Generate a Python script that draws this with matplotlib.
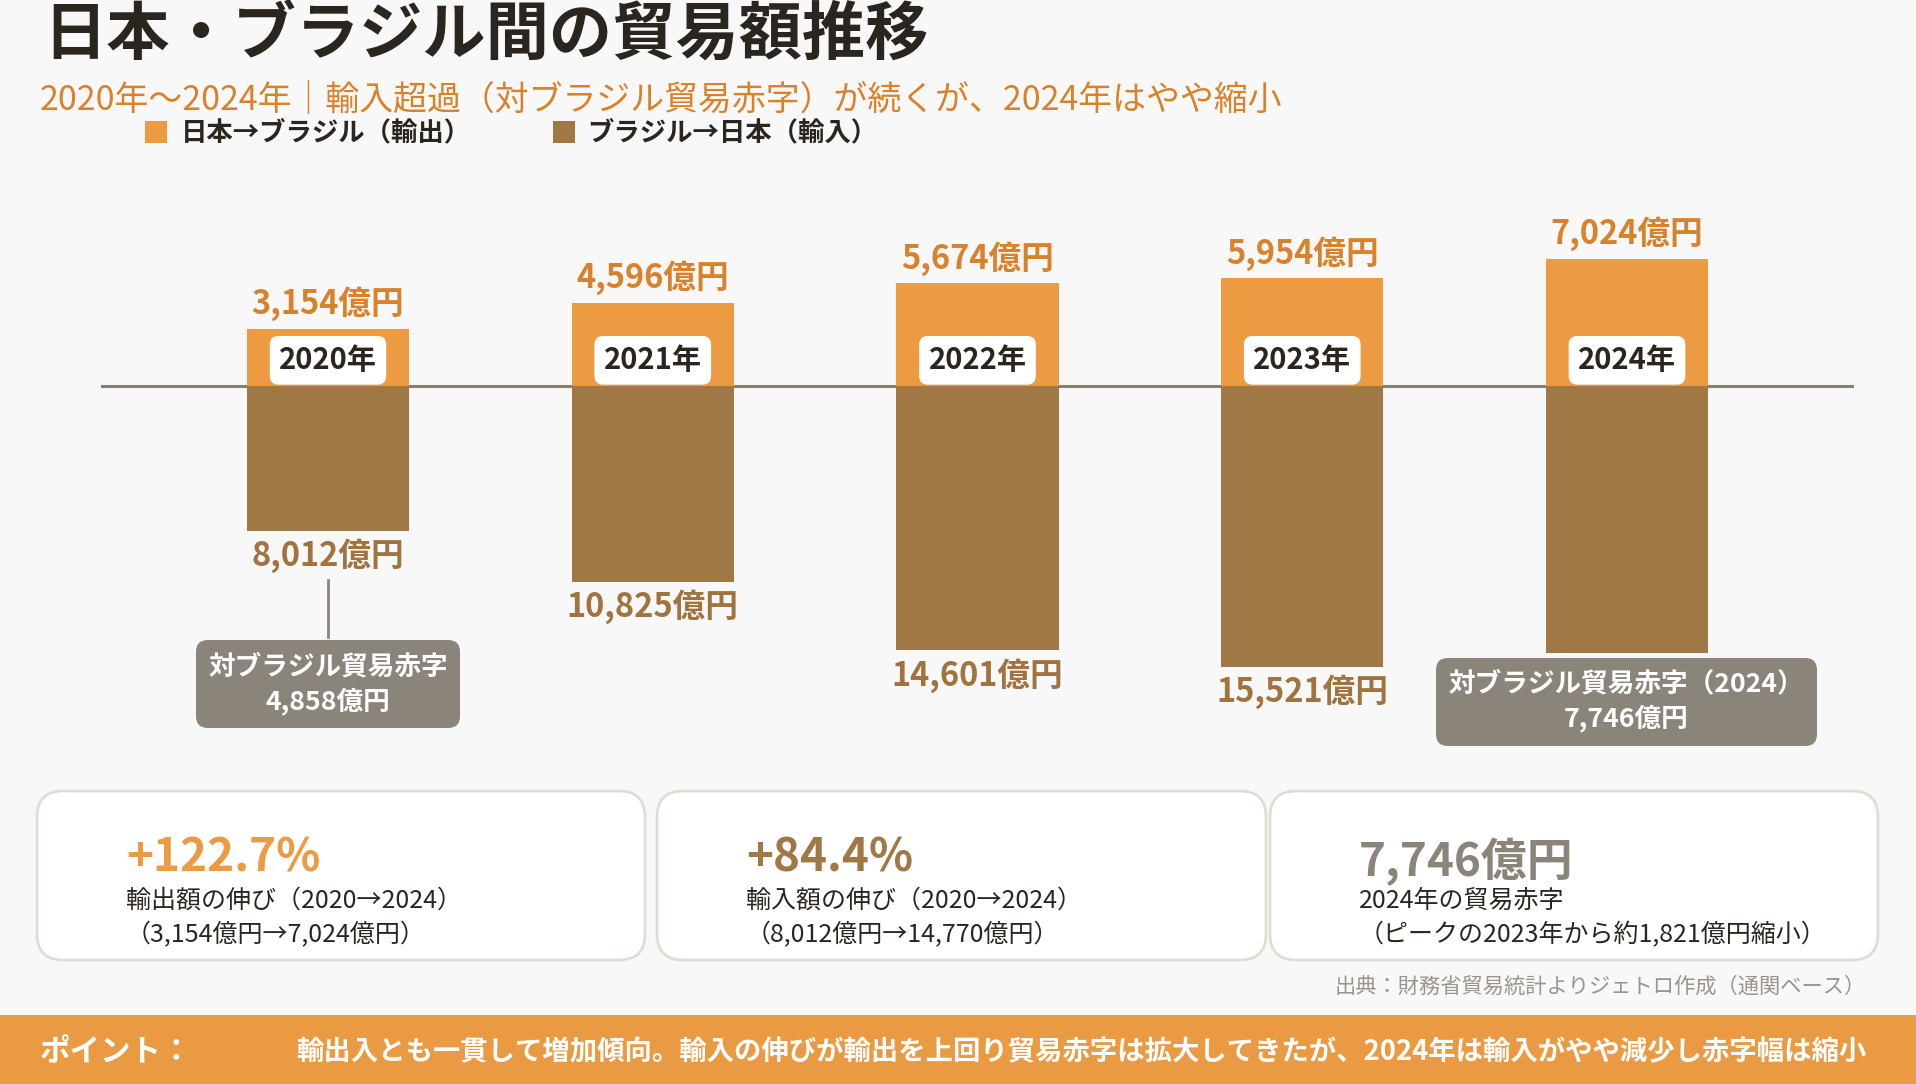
"""
日本・ブラジル間の貿易額推移 (2020-2024) チャート再現
"""
import matplotlib
matplotlib.use("Agg")
import matplotlib.pyplot as plt
from matplotlib.patches import FancyBboxPatch, Rectangle

plt.rcParams['font.family'] = ['Noto Sans CJK JP', 'DejaVu Sans']

# データ (億円)
years = ['2020', '2021', '2022', '2023', '2024']
exports = [3154, 4596, 5674, 5954, 7024]      # 日本→ブラジル
imports = [8012, 10825, 14601, 15521, 14770]  # ブラジル→日本
growth_labels = ['+122.7%', '+84.4%']          # 元資料の表記どおり

# 色
BG = '#f8f8f8'
C_EXP = '#EC9B42'
C_EXP_TXT = '#D9822B'
C_IMP = '#A07845'
C_IMP_TXT = '#A0733F'
C_GRAY = '#8B847A'
C_DARK = '#2B2520'
C_BORDER = '#E2DDD2'

W, H = 1916, 1084
fig = plt.figure(figsize=(W / 100, H / 100), dpi=100, facecolor=BG)

# 背景用オーバーレイ (ピクセル座標)
bg = fig.add_axes([0, 0, 1, 1], zorder=0)
bg.set_xlim(0, W)
bg.set_ylim(H, 0)
bg.axis('off')


def rbox(ax, x0, y0, x1, y1, fc, ec='none', lw=0, r=12, z=1):
    p = FancyBboxPatch((x0, y0), x1 - x0, y1 - y0,
                       boxstyle=f"round,pad=0,rounding_size={r}",
                       fc=fc, ec=ec, lw=lw, zorder=z)
    ax.add_patch(p)


# タイトル
bg.text(43, 36, '日本・ブラジル間の貿易額推移', fontsize=45.5, fontweight='bold',
        color=C_DARK, va='center', ha='left')
bg.text(40, 101, '2020年～2024年｜輸入超過（対ブラジル貿易赤字）が続くが、2024年はやや縮小',
        fontsize=24.4, color=C_EXP_TXT, va='center', ha='left')

# 凡例
bg.add_patch(Rectangle((145, 121), 22, 22, fc=C_EXP, ec='none'))
bg.text(181, 133, '日本→ブラジル（輸出）', fontsize=19, fontweight='bold',
        color=C_DARK, va='center', ha='left')
bg.add_patch(Rectangle((553, 121), 22, 22, fc=C_IMP, ec='none'))
bg.text(587, 133, 'ブラジル→日本（輸入）', fontsize=19, fontweight='bold',
        color=C_DARK, va='center', ha='left')

# チャート本体
px_left, px_right = 101, 1854
px_top, px_bot, px_base = 150, 780, 386
k = 0.0181  # px / 億円
ax = fig.add_axes([px_left / W, 1 - px_bot / H, (px_right - px_left) / W,
                   (px_bot - px_top) / H], zorder=2)
ax.patch.set_alpha(0)
ax.set_ylim(-(px_bot - px_base) / k, (px_base - px_top) / k)
step = 324.75
ax.set_xlim((px_left - 328) / step, (px_right - 328) / step)
ax.axis('off')

xs = list(range(len(years)))
ax.axhline(0, color='#8A8173', lw=2.2, zorder=1)
ax.bar(xs, exports, width=0.5, color=C_EXP, zorder=2)
ax.bar(xs, [-v for v in imports], width=0.5, color=C_IMP, zorder=2)

for i, (y, e, m) in enumerate(zip(years, exports, imports)):
    ax.annotate(f'{e:,}億円', (i, e), xytext=(0, 18), textcoords='offset points',
                ha='center', va='center', fontsize=23.5, fontweight='bold',
                color=C_EXP_TXT, zorder=4)
    if i < len(years) - 1:
        ax.annotate(f'{m:,}億円', (i, -m), xytext=(0, -18), textcoords='offset points',
                    ha='center', va='center', fontsize=23.5, fontweight='bold',
                    color=C_IMP_TXT, zorder=4)
    ax.annotate(f'{y}年', (i, 0), xytext=(0, 18.5), textcoords='offset points',
                ha='center', va='center', fontsize=21, fontweight='bold',
                color=C_DARK, zorder=5,
                bbox=dict(boxstyle='round,pad=0.32,rounding_size=0.3',
                          fc='white', ec='none'))

# 赤字の吹き出し
d0 = imports[0] - exports[0]
d4 = imports[-1] - exports[-1]
bg.plot([328, 328], [580, 637], color=C_GRAY, lw=2, zorder=3)
rbox(bg, 196, 640, 460, 728, C_GRAY, r=12, z=3)
bg.text(328, 667, '対ブラジル貿易赤字', fontsize=19.2, fontweight='bold', color='white',
        ha='center', va='center', zorder=4)
bg.text(328, 701, f'{d0:,}億円', fontsize=19.2, fontweight='bold', color='white',
        ha='center', va='center', zorder=4)
rbox(bg, 1436, 658, 1817, 746, C_GRAY, r=12, z=3)
bg.text(1626, 684, f'対ブラジル貿易赤字（{years[-1]}）', fontsize=19.2, fontweight='bold',
        color='white', ha='center', va='center', zorder=4)
bg.text(1626, 718, f'{d4:,}億円', fontsize=19.2, fontweight='bold', color='white',
        ha='center', va='center', zorder=4)

# 下段カード
deficits = [m - e for e, m in zip(exports, imports)]
peak = max(deficits)
peak_year = years[deficits.index(peak)]

cards = [
    (37, 645, growth_labels[0], C_EXP, '輸出額の伸び（2020→2024）',
     f'（{exports[0]:,}億円→{exports[-1]:,}億円）'),
    (657, 1266, growth_labels[1], C_IMP, '輸入額の伸び（2020→2024）',
     f'（{imports[0]:,}億円→{imports[-1]:,}億円）'),
    (1270, 1878, f'{d4:,}億円', C_GRAY, f'{years[-1]}年の貿易赤字',
     f'（ピークの{peak_year}年から約{peak - d4:,}億円縮小）'),
]
for j, (x0, x1, big, col, l1, l2) in enumerate(cards):
    rbox(bg, x0, 791, x1, 960, 'white', ec=C_BORDER, lw=2, r=26, z=1)
    tx = x0 + 89
    by = 858 if j < 2 else 862
    bg.text(tx, by, big, fontsize=33, fontweight='bold', color=col,
            ha='left', va='center', zorder=2)
    bg.text(tx, 901, l1, fontsize=18, color=C_DARK, ha='left', va='center', zorder=2)
    bg.text(tx, 935, l2, fontsize=18, color=C_DARK, ha='left', va='center', zorder=2)

# 出典
bg.text(1866, 987, '出典：財務省貿易統計よりジェトロ作成（通関ベース）', fontsize=15.3,
        color='#9A948C', ha='right', va='center')

# ポイント帯
bg.add_patch(Rectangle((0, 1015), W, H - 1015, fc='#EA9A42', ec='none', zorder=1))
bg.text(40, 1052, 'ポイント：', fontsize=22, fontweight='bold', color='white',
        ha='left', va='center', zorder=2)
bg.text(296, 1052, '輸出入とも一貫して増加傾向。輸入の伸びが輸出を上回り貿易赤字は拡大してきたが、'
        '2024年は輸入がやや減少し赤字幅は縮小', fontsize=19.7, fontweight='bold',
        color='white', ha='left', va='center', zorder=2)

fig.savefig('out.png', dpi=100, facecolor=BG)
